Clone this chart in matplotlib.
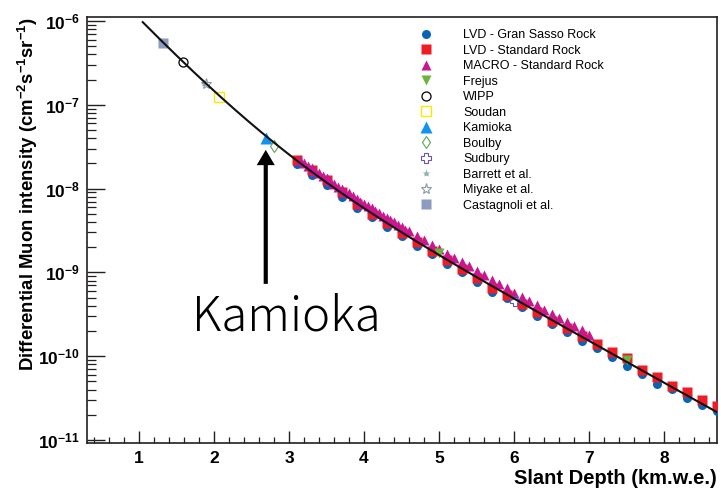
import numpy as np
import matplotlib
matplotlib.use("Agg")
import matplotlib.pyplot as plt
from matplotlib.lines import Line2D
from matplotlib.ticker import MultipleLocator, LogLocator, NullFormatter, FixedLocator, FixedFormatter

plt.rcParams['font.family'] = ['Liberation Sans', 'DejaVu Sans']
plt.rcParams['mathtext.fontset'] = 'custom'
plt.rcParams['mathtext.rm'] = 'Liberation Sans'
plt.rcParams['mathtext.bf'] = 'Liberation Sans:bold'
plt.rcParams['mathtext.it'] = 'Liberation Sans:italic'

# ---------------- data (slant depth in km.w.e., intensity in cm^-2 s^-1 sr^-1) -------------
lvd_depth = [3.1, 3.3, 3.5, 3.7, 3.9, 4.1, 4.3, 4.5, 4.7, 4.9, 5.1, 5.3, 5.5, 5.7, 5.9,
             6.1, 6.3, 6.5, 6.7, 6.9, 7.1, 7.3, 7.5, 7.7, 7.9, 8.1, 8.3, 8.5, 8.7]
# log10 of intensity
lvd_gran_sasso_log10 = [-7.710, -7.838, -7.957, -8.097, -8.228, -8.335, -8.458, -8.565,
                        -8.681, -8.779, -8.896, -8.996, -9.115, -9.238, -9.311, -9.418,
                        -9.515, -9.616, -9.711, -9.817, -9.906, -10.006, -10.113, -10.212,
                        -10.332, -10.391, -10.502, -10.582, -10.650]
lvd_standard_log10 = [-7.659, -7.778, -7.897, -8.037, -8.187, -8.303, -8.414, -8.525,
                      -8.640, -8.745, -8.850, -8.960, -9.065, -9.190, -9.270, -9.375,
                      -9.470, -9.575, -9.665, -9.760, -9.854, -9.946, -10.018, -10.165,
                      -10.252, -10.356, -10.424, -10.523, -10.594]

macro_depth = [3.15, 3.20, 3.25, 3.30, 3.35, 3.40, 3.45, 3.50, 3.55, 3.60, 3.65, 3.70,
               3.75, 3.80, 3.85, 3.90, 3.95, 4.00, 4.05, 4.10, 4.15, 4.20, 4.25, 4.30,
               4.35, 4.40, 4.45, 4.50, 4.55, 4.60, 4.70, 4.80, 4.90, 5.00, 5.10, 5.20,
               5.30, 5.40, 5.50, 5.60, 5.70, 5.80, 5.90, 6.00, 6.10, 6.20, 6.30, 6.40,
               6.50, 6.60, 6.70, 6.80, 6.90, 7.00]
macro_log10 = [-7.661, -7.689, -7.728, -7.751, -7.789, -7.817, -7.854, -7.877, -7.913,
               -7.940, -7.976, -8.002, -8.038, -8.058, -8.094, -8.119, -8.154, -8.178,
               -8.213, -8.232, -8.266, -8.290, -8.324, -8.348, -8.376, -8.399, -8.432,
               -8.455, -8.488, -8.511, -8.566, -8.615, -8.674, -8.723, -8.776, -8.824,
               -8.881, -8.928, -8.985, -9.032, -9.089, -9.135, -9.186, -9.242, -9.288,
               -9.339, -9.390, -9.446, -9.491, -9.541, -9.586, -9.642, -9.687, -9.742]

frejus_depth = [5.00, 7.51]
frejus_int = [1.69e-9, 9.0e-11]
wipp_depth = [1.58]
wipp_int = [3.2e-7]
soudan_depth = [2.07]
soudan_int = [1.24e-7]
kamioka_depth = [2.69]
kamioka_int = [4.05e-8]
boulby_depth = [2.80]
boulby_int = [3.2e-8]
sudbury_depth = [6.01]
sudbury_int = [4.6e-10]
barrett_depth = [1.87]
barrett_int = [1.8e-7]
miyake_depth = [1.89]
miyake_int = [1.76e-7]
castagnoli_depth = [1.32]
castagnoli_int = [5.5e-7]

# two-exponential depth-intensity fit
fit_a1, fit_l1 = 8.60e-6, 0.45
fit_a2, fit_l2 = 0.45e-6, 0.875
fit_range = (1.05, 8.7)

tick_depths = [1, 2, 3, 4, 5, 6, 7, 8]
decades = [-11, -10, -9, -8, -7, -6]

# ---------------- figure -------------------------------------------------------------------
fig = plt.figure(figsize=(7.21, 4.90), dpi=100)
ax = fig.add_axes([0.1207, 0.0959, 0.8738, 0.8694])
ax.set_yscale('log')
ax.set_xlim(0.307, 8.707)
ax.set_ylim(10 ** -11.036, 10 ** -5.952)

c_blue = '#0b63b5'
c_red = '#ee1c25'
c_mag = '#c8178f'

ax.plot(lvd_depth, 10 ** np.array(lvd_gran_sasso_log10), 'o', ms=6.5, color=c_blue, mec='none', zorder=3)
ax.plot(lvd_depth, 10 ** np.array(lvd_standard_log10), 's', ms=6.5, color=c_red, mec='none', zorder=4)
ax.plot(macro_depth, 10 ** np.array(macro_log10), '^', ms=6.5, color=c_mag, mec='none', zorder=5)
ax.plot(frejus_depth, frejus_int, 'v', ms=6.5, color='#6cb33f', mec='none', zorder=6)
ax.plot(wipp_depth, wipp_int, 'o', ms=6.5, mfc='none', mec='black', mew=0.9, zorder=6)
ax.plot(soudan_depth, soudan_int, 's', ms=7, mfc='none', mec='#ffe600', mew=1.0, zorder=6)
ax.plot(kamioka_depth, kamioka_int, '^', ms=8, color='#0f93f0', mec='none', zorder=6)
ax.plot(boulby_depth, boulby_int, 'd', ms=6, mfc='none', mec='#5aa55a', mew=0.8, zorder=6)
ax.plot(sudbury_depth, sudbury_int, 'P', ms=7, mfc='none', mec='#6655aa', mew=0.8, zorder=6)
ax.plot(barrett_depth, barrett_int, '*', ms=6, color='#8fb0b0', mec='none', zorder=6)
ax.plot(miyake_depth, miyake_int, '*', ms=8, mfc='none', mec='#8a9aa5', mew=0.8, zorder=6)
ax.plot(castagnoli_depth, castagnoli_int, 's', ms=6.5, color='#8d9bc0', mec='none', zorder=6)

h = np.linspace(fit_range[0], fit_range[1], 400)
ax.plot(h, fit_a1 * np.exp(-h / fit_l1) + fit_a2 * np.exp(-h / fit_l2),
        color='#111111', lw=1.5, zorder=7)

# ---------------- axes styling --------------------------------------------------------------
for side in ['left', 'bottom', 'top', 'right']:
    ax.spines[side].set_color('#231f20')
    ax.spines[side].set_linewidth(1.2)

ax.xaxis.set_major_locator(FixedLocator(tick_depths))
ax.xaxis.set_major_formatter(FixedFormatter([str(t) for t in tick_depths]))
ax.xaxis.set_minor_locator(MultipleLocator(0.2))
ax.yaxis.set_major_locator(FixedLocator([10.0 ** d for d in decades]))
ax.yaxis.set_major_formatter(FixedFormatter([r'$\mathbf{10^{%d}}$' % d for d in decades]))
ax.yaxis.set_minor_locator(LogLocator(base=10, subs=np.arange(2, 10), numticks=20))
ax.yaxis.set_minor_formatter(NullFormatter())

ax.tick_params(axis='x', which='major', direction='in', length=8.5, width=1.0,
               pad=6, labelsize=12.5, color='#231f20')
ax.tick_params(axis='x', which='minor', direction='in', length=4.3, width=0.9, color='#231f20')
ax.tick_params(axis='y', which='major', direction='in', length=13, width=1.0,
               pad=5, labelsize=12.5, color='#231f20')
ax.tick_params(axis='y', which='minor', direction='in', length=6.5, width=0.9, color='#231f20')
for lab in ax.get_xticklabels():
    lab.set_fontweight('bold')

ax.set_xlabel('Slant Depth (km.w.e.)', fontsize=14.5, fontweight='bold', loc='right', labelpad=2)
ax.set_ylabel(r'Differential Muon intensity (cm$^{\mathbf{-2}}$s$^{\mathbf{-1}}$sr$^{\mathbf{-1}}$)',
              fontsize=13.4, fontweight='bold', loc='top', labelpad=-1.5)

# ---------------- legend --------------------------------------------------------------------
handles = [
    Line2D([], [], ls='none', marker='o', ms=6.5, color=c_blue, mec='none'),
    Line2D([], [], ls='none', marker='s', ms=6.5, color=c_red, mec='none'),
    Line2D([], [], ls='none', marker='^', ms=6.5, color=c_mag, mec='none'),
    Line2D([], [], ls='none', marker='v', ms=6.5, color='#6cb33f', mec='none'),
    Line2D([], [], ls='none', marker='o', ms=6.5, mfc='none', mec='black', mew=0.9),
    Line2D([], [], ls='none', marker='s', ms=7, mfc='none', mec='#ffe600', mew=1.0),
    Line2D([], [], ls='none', marker='^', ms=8, color='#0f93f0', mec='none'),
    Line2D([], [], ls='none', marker='d', ms=6, mfc='none', mec='#5aa55a', mew=0.8),
    Line2D([], [], ls='none', marker='P', ms=7, mfc='none', mec='#6655aa', mew=0.8),
    Line2D([], [], ls='none', marker='*', ms=6, color='#8fb0b0', mec='none'),
    Line2D([], [], ls='none', marker='*', ms=8, mfc='none', mec='#8a9aa5', mew=0.8),
    Line2D([], [], ls='none', marker='s', ms=6.5, color='#8d9bc0', mec='none'),
]
labels = ['LVD - Gran Sasso Rock', 'LVD - Standard Rock', 'MACRO - Standard Rock', 'Frejus',
          'WIPP', 'Soudan', 'Kamioka', 'Boulby', 'Sudbury', 'Barrett et al.',
          'Miyake et al.', 'Castagnoli et al.']
ax.legend(handles, labels, loc='upper left', bbox_to_anchor=(0.51, 0.992), frameon=False,
          fontsize=9.0, numpoints=1, handlelength=1.4, handletextpad=2.3,
          labelspacing=0.28, borderpad=0.2)

# ---------------- Kamioka annotation --------------------------------------------------------
ax.annotate('', xy=(2.69, 2.9e-8), xytext=(2.69, 7.3e-10),
            arrowprops=dict(arrowstyle='simple,head_length=1.1,head_width=1.3,tail_width=0.3',
                            fc='black', ec='none', mutation_scale=10, shrinkA=0, shrinkB=0),
            zorder=8)
ax.text(2.96, 2.0e-10, 'Kamioka', ha='center', va='baseline', fontsize=34,
        family=['Noto Sans CJK JP', 'DejaVu Sans'], fontweight='light', color='black')

fig.savefig('out.png', dpi=100)
